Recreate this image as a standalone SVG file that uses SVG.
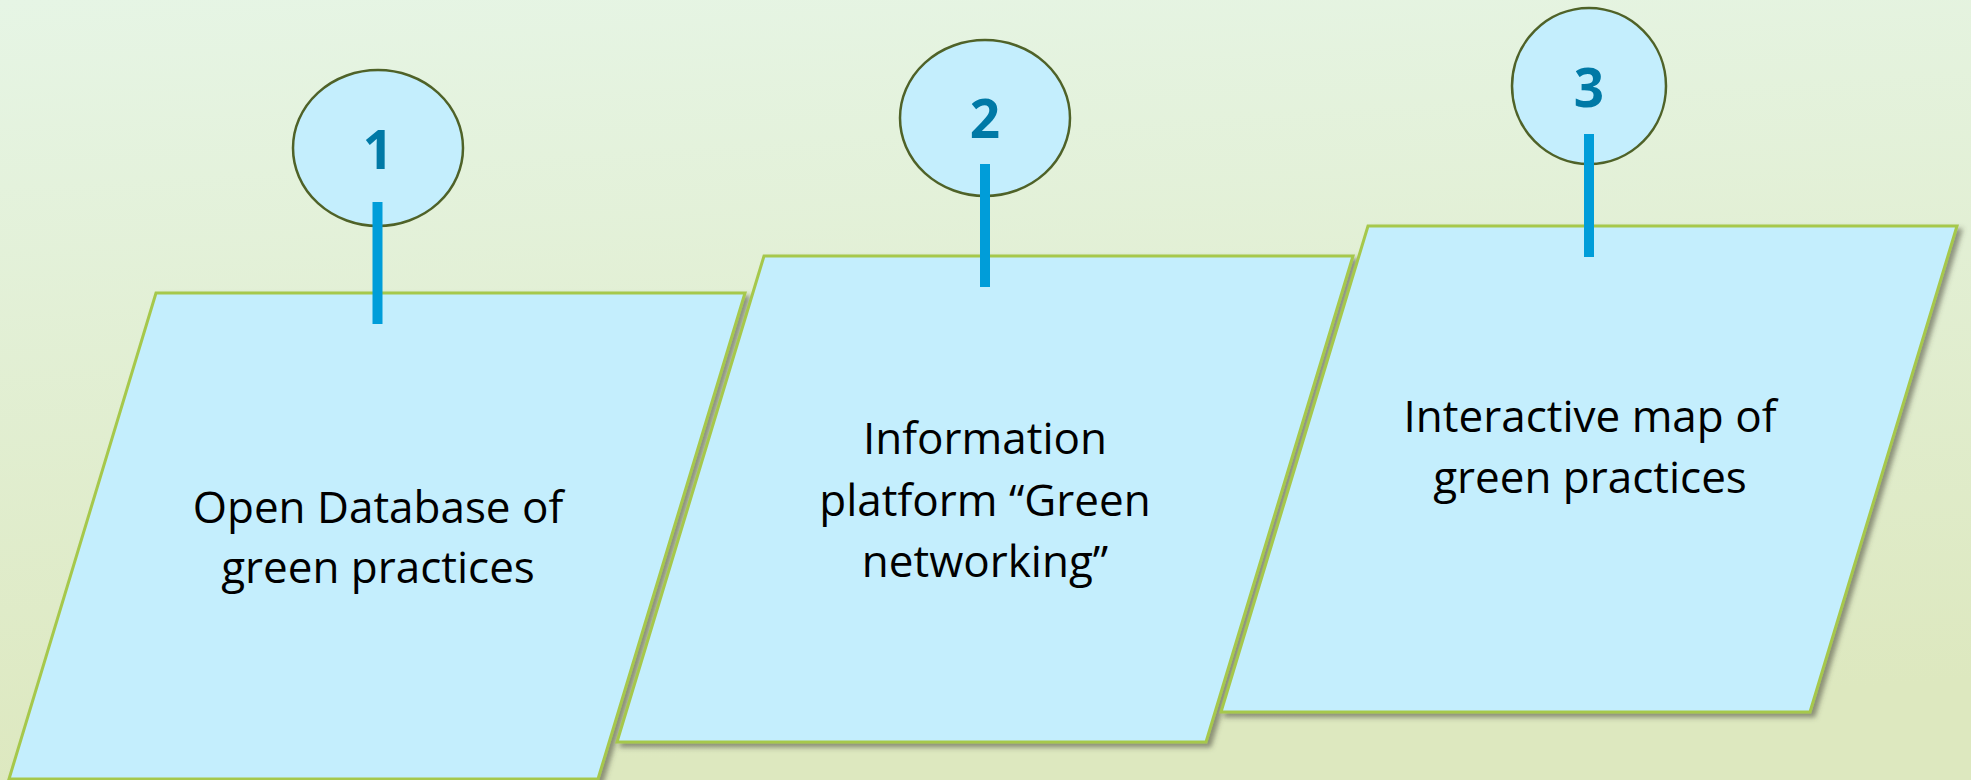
<svg xmlns="http://www.w3.org/2000/svg" width="1971" height="780" viewBox="0 0 1971 780">
<defs>
<linearGradient id="bg" x1="0" y1="0" x2="0.15" y2="1">
<stop offset="0" stop-color="#E6F5E5"/>
<stop offset="1" stop-color="#DDE8BF"/>
</linearGradient>
<filter id="sh" x="-10%" y="-10%" width="125%" height="125%">
<feDropShadow dx="4" dy="4" stdDeviation="2.5" flood-color="#4a4a3a" flood-opacity="0.55"/>
</filter>
<style>
.card{fill:#C4EEFD;stroke:#A6C84C;stroke-width:3;stroke-linejoin:miter;filter:url(#sh)}
.badge{fill:#C4EEFD;stroke:#4F6228;stroke-width:2.5}
.num{font-family:"Open Sans","Liberation Sans",sans-serif;font-weight:bold;font-size:53px;fill:#0079A6;text-anchor:middle}
.lbl{font-family:"Open Sans","Liberation Sans",sans-serif;font-size:44px;fill:#000;text-anchor:middle}
.pin{stroke:#009DD9;stroke-width:10;fill:none}
</style>
</defs>
<rect x="0" y="0" width="1971" height="780" fill="url(#bg)"/>
<g id="node1">
<polygon class="card" points="156,293 745,293 598,779 9,779"/>
<text class="lbl" x="378" y="523">Open Database of</text>
<text class="lbl" x="378" y="583">green practices</text>
<ellipse class="badge" cx="378" cy="148" rx="85" ry="78"/>
<text class="num" x="378" y="169">1</text>
</g>
<g id="node2">
<polygon class="card" points="764,256 1353,256 1206,742 617,742"/>
<text class="lbl" x="985" y="454">Information</text>
<text class="lbl" x="985" y="516">platform “Green</text>
<text class="lbl" x="985" y="577">networking”</text>
<ellipse class="badge" cx="985" cy="118" rx="85" ry="78"/>
<text class="num" x="985" y="138">2</text>
</g>
<g id="node3">
<polygon class="card" points="1368,226 1957,226 1810,712 1221,712"/>
<text class="lbl" x="1590" y="432">Interactive map of</text>
<text class="lbl" x="1590" y="493">green practices</text>
<ellipse class="badge" cx="1589" cy="86" rx="77" ry="78"/>
<text class="num" x="1589" y="107">3</text>
</g>
<g id="connectors">
<line class="pin" x1="377.5" y1="202" x2="377.5" y2="324"/>
<line class="pin" x1="985" y1="164" x2="985" y2="287"/>
<line class="pin" x1="1589" y1="134" x2="1589" y2="257"/>
</g>
</svg>
